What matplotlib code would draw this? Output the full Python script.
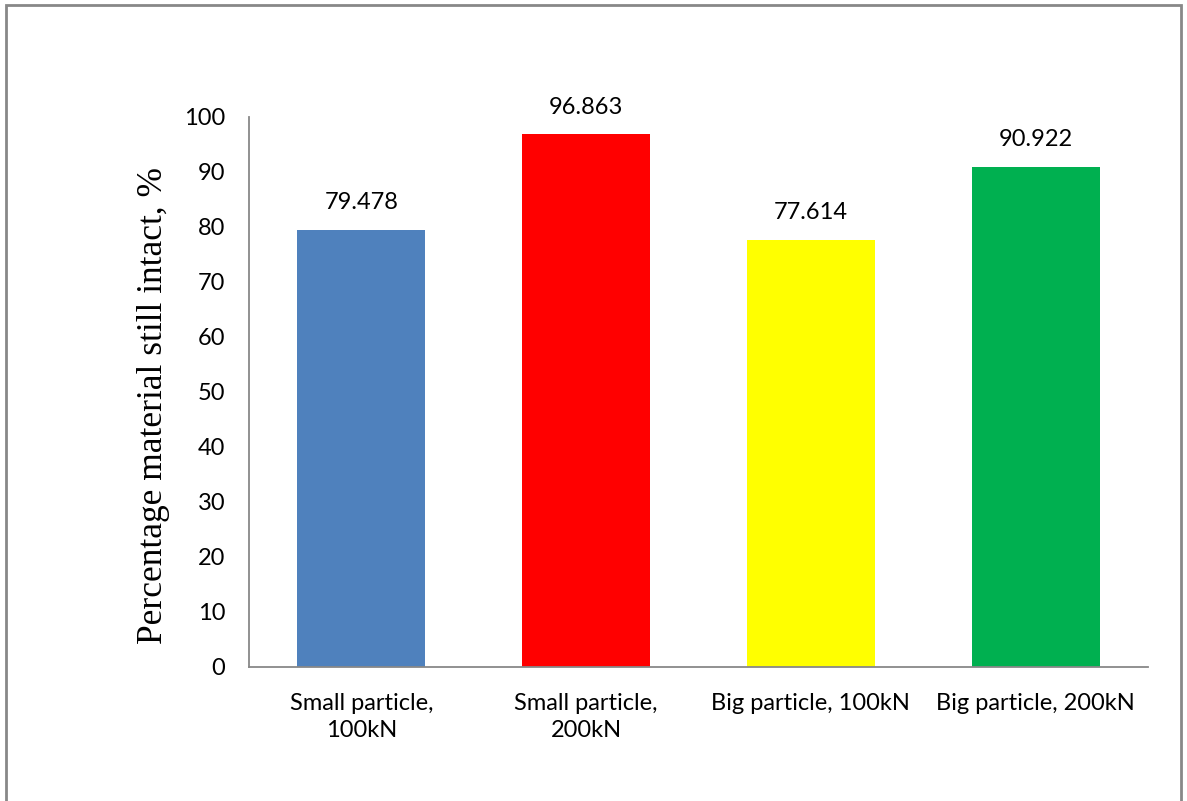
import matplotlib.pyplot as plt
from matplotlib.patches import Rectangle

# datos de las barras
categorias = ["Small particle,\n100kN", "Small particle,\n200kN",
              "Big particle, 100kN", "Big particle, 200kN"]
valores = [79.478, 96.863, 77.614, 90.922]
colores = ["#4f81bd", "#ff0000", "#ffff00", "#00b050"]
yticks = [0, 10, 20, 30, 40, 50, 60, 70, 80, 90, 100]

fig = plt.figure(figsize=(11.87, 8.01), dpi=100)
ax = fig.add_axes([0.2098, 0.1673, 0.7574, 0.6867])

pos = range(len(valores))
barras = ax.bar(pos, valores, width=0.57, color=colores)
for b, v in zip(barras, valores):
    ax.annotate(f"{v:.3f}", (b.get_x() + b.get_width() / 2, v),
                xytext=(0, 12), textcoords="offset points",
                ha="center", va="bottom", fontsize=17, family="Lato")

ax.set_xlim(-0.5, len(valores) - 0.5)
ax.set_ylim(0, 100)
ax.set_yticks(yticks)
ax.set_xticks(list(pos))
ax.set_xticklabels(categorias, fontsize=17, family="Lato", linespacing=1.35)
ax.tick_params(axis="y", length=0, pad=17, labelsize=17)
ax.tick_params(axis="x", length=0, pad=19)
for t in ax.get_yticklabels():
    t.set_family("Lato")

for s in ["top", "right"]:
    ax.spines[s].set_visible(False)
for s in ["left", "bottom"]:
    ax.spines[s].set_color("#888888")
    ax.spines[s].set_linewidth(1.3)

ax.set_ylabel("Percentage material still intact, %", family="Liberation Serif",
              fontsize=25.5, va="center")
ax.yaxis.set_label_coords(-0.106, 0.475)

# marco exterior del grafico
fig.patches.append(Rectangle((6 / 1187, -0.05), 1175 / 1187, 1.05 - 5 / 801,
                             transform=fig.transFigure, fill=False,
                             edgecolor="#888888", linewidth=2))

fig.savefig("out.png", dpi=100)
